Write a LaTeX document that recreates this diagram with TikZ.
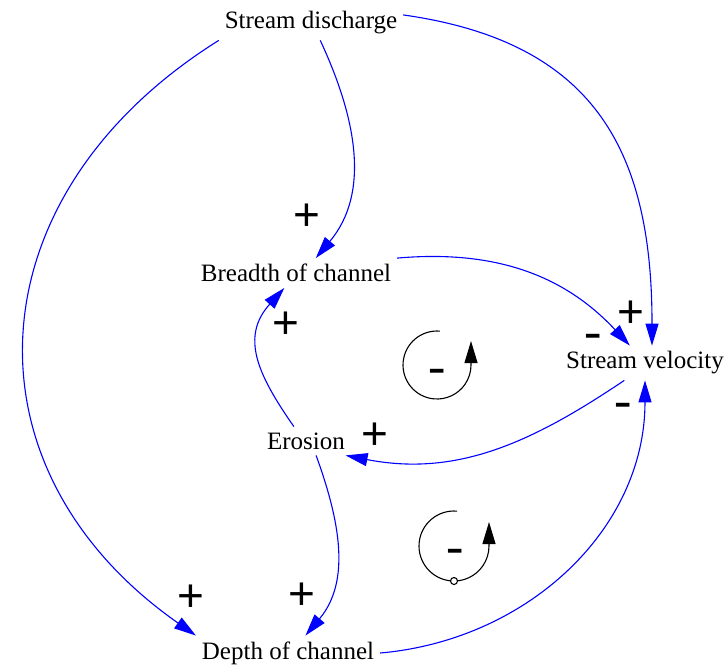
\documentclass[tikz,border=0pt]{standalone}
\usepackage{fontspec}
\setmainfont{Liberation Serif}
\newfontfamily\segnofont{Liberation Sans}
\usetikzlibrary{arrows.meta}
\begin{document}
\begin{tikzpicture}
        [x=1pt,y=1pt,
        var/.style={font=\fontsize{25}{30}\selectfont, inner sep=2pt, outer sep=4pt},
        link/.style={blue, line width=1.1pt, -{Triangle[length=22pt,width=13pt]}},
        piu/.style={font=\segnofont\fontsize{46}{50}\selectfont, inner sep=0pt},
        meno/.style={font=\fontsize{52}{56}\selectfont, inner sep=0pt},
        ciclo/.style={black, line width=1.1pt, -{Triangle[length=22pt,width=13pt]}}]
        \useasboundingbox (0,0) rectangle (725,-665);
        %variabili
            \node[var] (sd) at (311,-23) {Stream discharge};
            \node[var] (bc) at (296,-273) {Breadth of channel};
            \node[var] (sv) at (645,-363) {Stream velocity};
            \node[var] (er) at (306,-441) {Erosion};
            \node[var] (dc) at (288,-653) {Depth of channel};
        %collegamenti
            \draw[link] (sd.-62) to[out=-65,in=50] (bc.37);
            \draw[link] (sd.5) to[out=-8,in=90,looseness=1.2] (sv.68);
            \draw[link] (sd.south west) to[out=-148,in=145,looseness=1.25] (dc.north west);
            \draw[link] (bc.north east) to[out=5,in=133] (sv.131);
            \draw[link] (sv.-140) to[out=-146,in=-11] (er.-20);
            \draw[link] (er.130) to[out=125,in=-132,looseness=1.2] (bc.-128);
            \draw[link] (er.-55) to[out=-70,in=50] (dc.45);
            \draw[link] (dc.east) to[out=5,in=-90] (sv.south);
        %polarita
            \node[piu] (p1) at (307,-217.7) {+};
            \node[piu] (p2) at (286,-325.7) {+};
            \node[piu] (p3) at (631,-314.7) {+};
            \node[piu] (p4) at (375,-436.7) {+};
            \node[piu] (p5) at (191,-598.7) {+};
            \node[piu] (p6) at (302,-596.7) {+};
            \node[meno] (m1) at (593,-341) {-};
            \node[meno] (m2) at (623,-410) {-};
        %cicli
            \draw[ciclo] (437,-365) ++(85:34) arc[start angle=85,end angle=360,radius=34] --++ (0,24);
            \node[meno] (m3) at (437,-376) {-};
            \draw[ciclo] (454,-546) ++(85:35) arc[start angle=85,end angle=360,radius=35] --++ (0,24);
            \draw[black, line width=1.1pt, fill=white] (454,-581) circle (3.5);
            \node[meno] (m4) at (455,-556) {-};
\end{tikzpicture}
\end{document}
